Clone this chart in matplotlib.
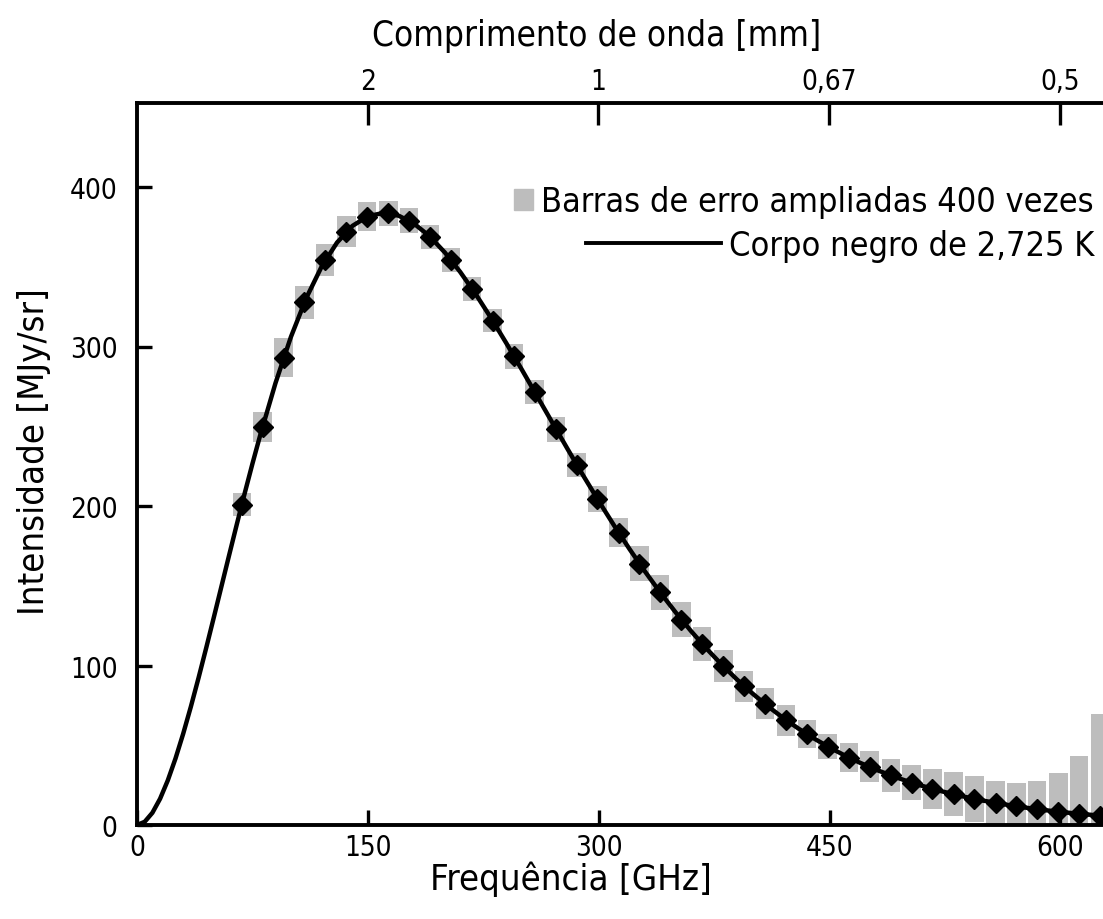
import matplotlib
matplotlib.use("Agg")
import matplotlib.pyplot as plt
from matplotlib import font_manager
from matplotlib.patches import Rectangle
from matplotlib.lines import Line2D

# ------------------------------------------------------------
# DATEN
# ------------------------------------------------------------
# Messpunkte: Frequenz [GHz], Intensitaet [MJy/sr], halbe Hoehe der grauen Balken
freq = [68.1, 81.6, 95.3, 108.8, 122.3, 136.1, 149.6, 163.4, 176.9, 190.4,
        204.2, 217.6, 231.1, 244.9, 258.4, 272.2, 285.7, 299.2, 313.0, 326.5,
        340.0, 353.8, 367.2, 381.0, 394.5, 408.0, 421.8, 435.3, 448.8, 462.6,
        476.1, 489.9, 503.4, 516.8, 530.6, 544.1, 557.9, 571.4, 584.9, 598.7,
        612.2, 625.7]
intensity = [200.7, 249.5, 293.0, 327.8, 354.1, 372.1, 381.5, 383.5, 378.9, 368.8,
             354.1, 336.3, 316.1, 293.9, 271.4, 248.2, 225.9, 204.3, 183.3, 163.8,
             145.8, 128.8, 113.6, 99.5, 87.0, 75.9, 65.8, 57.0, 49.2, 42.3,
             36.4, 31.1, 26.6, 22.6, 19.3, 16.4, 13.8, 11.7, 9.9, 8.4,
             7.1, 5.8]
err400 = [7.2, 9.4, 12.2, 10.4, 10.0, 9.7, 9.0, 8.0, 8.0, 7.5,
          7.5, 7.5, 7.3, 7.7, 7.5, 7.8, 7.5, 8.0, 9.0, 11.0,
          11.0, 11.0, 10.6, 10.0, 9.7, 9.7, 9.7, 8.8, 8.0, 9.0,
          9.7, 10.3, 11.0, 12.5, 13.8, 14.4, 13.8, 14.6, 17.7, 24.2,
          36.1, 63.7]

# Kurve (Schwarzer Koerper): unten dichter, danach alle 10 GHz
curve_freq = [0, 5, 10, 15, 20, 25, 30, 35, 40, 45, 50, 55, 60, 65, 70, 75, 80,
              90, 100, 110, 120, 130, 140, 150, 160, 170, 180, 190, 200, 210, 220,
              230, 240, 250, 260, 270, 280, 290, 300, 310, 320, 330, 340, 350, 360,
              370, 380, 390, 400, 410, 420, 430, 440, 450, 460, 470, 480, 490, 500,
              510, 520, 530, 540, 550, 560, 570, 580, 590, 600, 610, 620, 630]
curve_int = [0.0, 2.00, 7.66, 16.46, 27.94, 41.65, 57.19, 74.18, 92.27, 111.15,
             130.51, 150.11, 169.70, 189.08, 208.07, 226.49, 244.21,
             277.09, 305.98, 330.41, 350.17, 365.20, 375.62, 381.66, 383.73, 382.02,
             377.04, 369.22, 358.97, 346.75, 332.96, 317.93, 302.04, 285.59, 268.82,
             252.04, 235.36, 219.00, 203.10, 187.76, 173.05, 159.05, 145.79, 133.30,
             121.59, 110.65, 100.49, 91.08, 82.39, 74.38, 67.04, 60.32, 54.19, 48.61,
             43.53, 38.93, 34.77, 31.02, 27.63, 24.59, 21.86, 19.40, 17.21, 15.25,
             13.49, 11.93, 10.54, 9.30, 8.21, 7.23, 6.37, 5.60]

x_ticks = [0, 150, 300, 450, 600]
y_ticks = [0, 100, 200, 300, 400]
wl_ticks = [2, 1, 2 / 3, 0.5]          # mm
wl_labels = ["2", "1", "0,67", "0,5"]

LEG_BARS = "Barras de erro ampliadas 400 vezes"
LEG_LINE = "Corpo negro de 2,725 K"

# ------------------------------------------------------------
# SCHRIFT (schmale Schrift, falls vorhanden)
# ------------------------------------------------------------
FONT, STRETCH = "Liberation Sans", "normal"
SZ = {"title": 25, "label": 25, "legend": 25, "tick": 19}
for f in font_manager.fontManager.ttflist:
    if f.name in ("Liberation Sans Narrow", "Roboto Condensed", "Open Sans Condensed",
                  "Noto Sans Condensed") or (f.name == "DejaVu Sans" and f.stretch == "condensed"):
        FONT, STRETCH = f.name, "condensed"
        SZ = {"title": 25.2, "label": 26.2, "legend": 24.6, "tick": 20}
        break
plt.rcParams["font.family"] = [FONT, "DejaVu Sans"]
plt.rcParams["font.stretch"] = STRETCH

GRAY = "#bdbdbd"
W, H = 1103, 920

fig = plt.figure(figsize=(W / 100, H / 100), dpi=100)
ax = fig.add_axes([137 / W, 1 - 826 / H, 1 - 137 / W, (826 - 104) / H])

ax.bar(freq, [2 * e for e in err400], bottom=[v - e for v, e in zip(intensity, err400)],
       width=12, color=GRAY, zorder=1)
ax.plot(curve_freq, curve_int, color="black", lw=3.2, zorder=2)
ax.plot(freq, intensity, ls="", marker="D", ms=10.5, color="black", zorder=3)

ax.set_xlim(0, (W - 137) / 1.539)
ax.set_ylim(0, (826 - 104) / 1.595)
ax.set_xticks(x_ticks)
ax.set_yticks(y_ticks)
ax.tick_params(direction="in", length=11, width=2.4, labelsize=SZ["tick"])
ax.tick_params(axis="x", pad=6)
ax.tick_params(axis="y", pad=14)
for s in ["left", "bottom", "top"]:
    ax.spines[s].set_linewidth(2.8)
ax.spines["right"].set_visible(False)

# obere Achse: Wellenlaenge
ax2 = ax.twiny()
ax2.set_xlim(ax.get_xlim())
ax2.set_xticks([299.79 / w for w in wl_ticks])
ax2.set_xticklabels(wl_labels)
ax2.tick_params(direction="in", length=16, width=2.4, labelsize=SZ["tick"], pad=6)
for s in ax2.spines.values():
    s.set_visible(False)

fig.text(597 / W, 1 - 46 / H, "Comprimento de onda [mm]", fontsize=SZ["title"],
         ha="center", va="baseline")
fig.text(571 / W, 1 - 890 / H, "Frequência [GHz]", fontsize=SZ["label"],
         ha="center", va="baseline")
fig.text(44 / W, 1 - 452 / H, "Intensidade [MJy/sr]", fontsize=SZ["label"],
         ha="center", va="baseline", rotation=90, rotation_mode="anchor")

# Legende von Hand, rechtsbuendig
t1 = fig.text(1094 / W, 1 - 212 / H, LEG_BARS, fontsize=SZ["legend"], ha="right", va="baseline")
t2 = fig.text(1094 / W, 1 - 256 / H, LEG_LINE, fontsize=SZ["legend"], ha="right", va="baseline")
fig.canvas.draw()
b1 = t1.get_window_extent()
b2 = t2.get_window_extent()
fig.patches.append(Rectangle((b1.x0 - 27, H - 211), 19, 21, color=GRAY,
                             transform=None, figure=fig))
fig.lines.append(Line2D([b2.x0 - 143, b2.x0 - 8], [H - 244, H - 244], color="black",
                        lw=2.8, transform=None, figure=fig))

fig.savefig("out.png", dpi=100, facecolor="white")
